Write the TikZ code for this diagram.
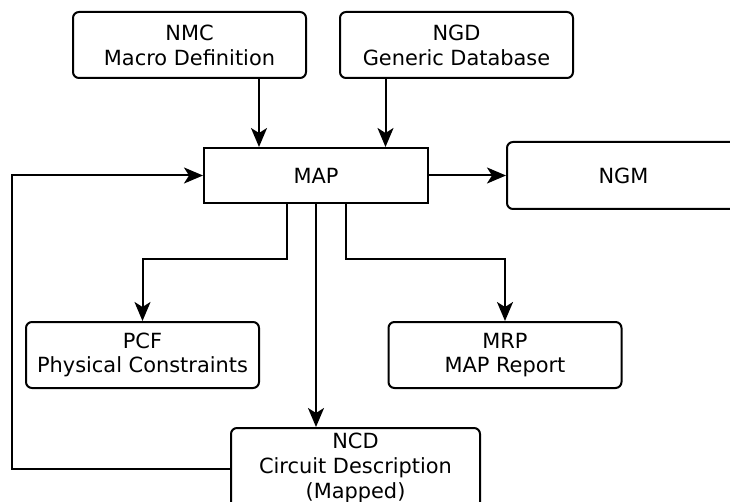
\documentclass[tikz,border=0pt]{standalone}
\usepackage{fontspec}
\setmainfont{DejaVu Sans}
\usetikzlibrary{arrows.meta}
\begin{document}
\begin{tikzpicture}[x=1pt,y=-1pt,
  every node/.style={font=\fontsize{20.9}{24.8}\selectfont, align=center, inner sep=0pt},
  rbox/.style={draw, line width=2pt, rounded corners=6pt, minimum width=233pt, minimum height=66pt},
  sbox/.style={draw, line width=2pt, minimum width=224pt, minimum height=55pt},
  arr/.style={line width=2pt, -{Stealth[length=19pt,width=16pt,inset=5pt]}}]
  \useasboundingbox (0,0) rectangle (730,502);

  % boxes
  \node[rbox] (nmc) at (189.5,45) {NMC\\Macro Definition};
  \node[rbox] (ngd) at (456.5,45) {NGD\\Generic Database};
  \node[sbox] (map) at (316,175.5) {MAP};
  \node[rbox, minimum height=67pt] (ngm) at (623.5,175.5) {NGM};
  \node[rbox] (pcf) at (142.5,355) {PCF\\Physical Constraints};
  \node[rbox] (mrp) at (505,355) {MRP\\MAP Report};
  \node[rbox, minimum width=249pt, minimum height=80pt] (ncd) at (355.5,468) {NCD\\Circuit Description\\(Mapped)};

  % helper columns and rows for the connectors
  \coordinate (cnmc) at (259,0);
  \coordinate (cngd) at (385.5,0);
  \coordinate (cpcf) at (286.5,0);
  \coordinate (cmrp) at (346,0);
  \coordinate (cncd) at (316,0);
  \coordinate (rowsplit) at (0,259);
  \coordinate (loopx) at (11.5,0);

  % inputs into MAP
  \draw[arr] (nmc.south -| cnmc) -- (map.north -| cnmc);
  \draw[arr] (ngd.south -| cngd) -- (map.north -| cngd);
  \draw[arr] (map.east) -- (ngm.west);

  % outputs from MAP
  \draw[arr] (map.south -| cpcf) -- (rowsplit -| cpcf) -- (rowsplit -| pcf.north) -- (pcf.north);
  \draw[arr] (map.south -| cmrp) -- (rowsplit -| cmrp) -- (rowsplit -| mrp.north) -- (mrp.north);
  \draw[arr] (map.south -| cncd) -- (ncd.north -| cncd);

  % feedback loop from NCD back into MAP
  \draw[arr] ([yshift=-1pt]ncd.west) -- ([yshift=-1pt]ncd.west -| loopx) -- (map.west -| loopx) -- (map.west);
\end{tikzpicture}
\end{document}
